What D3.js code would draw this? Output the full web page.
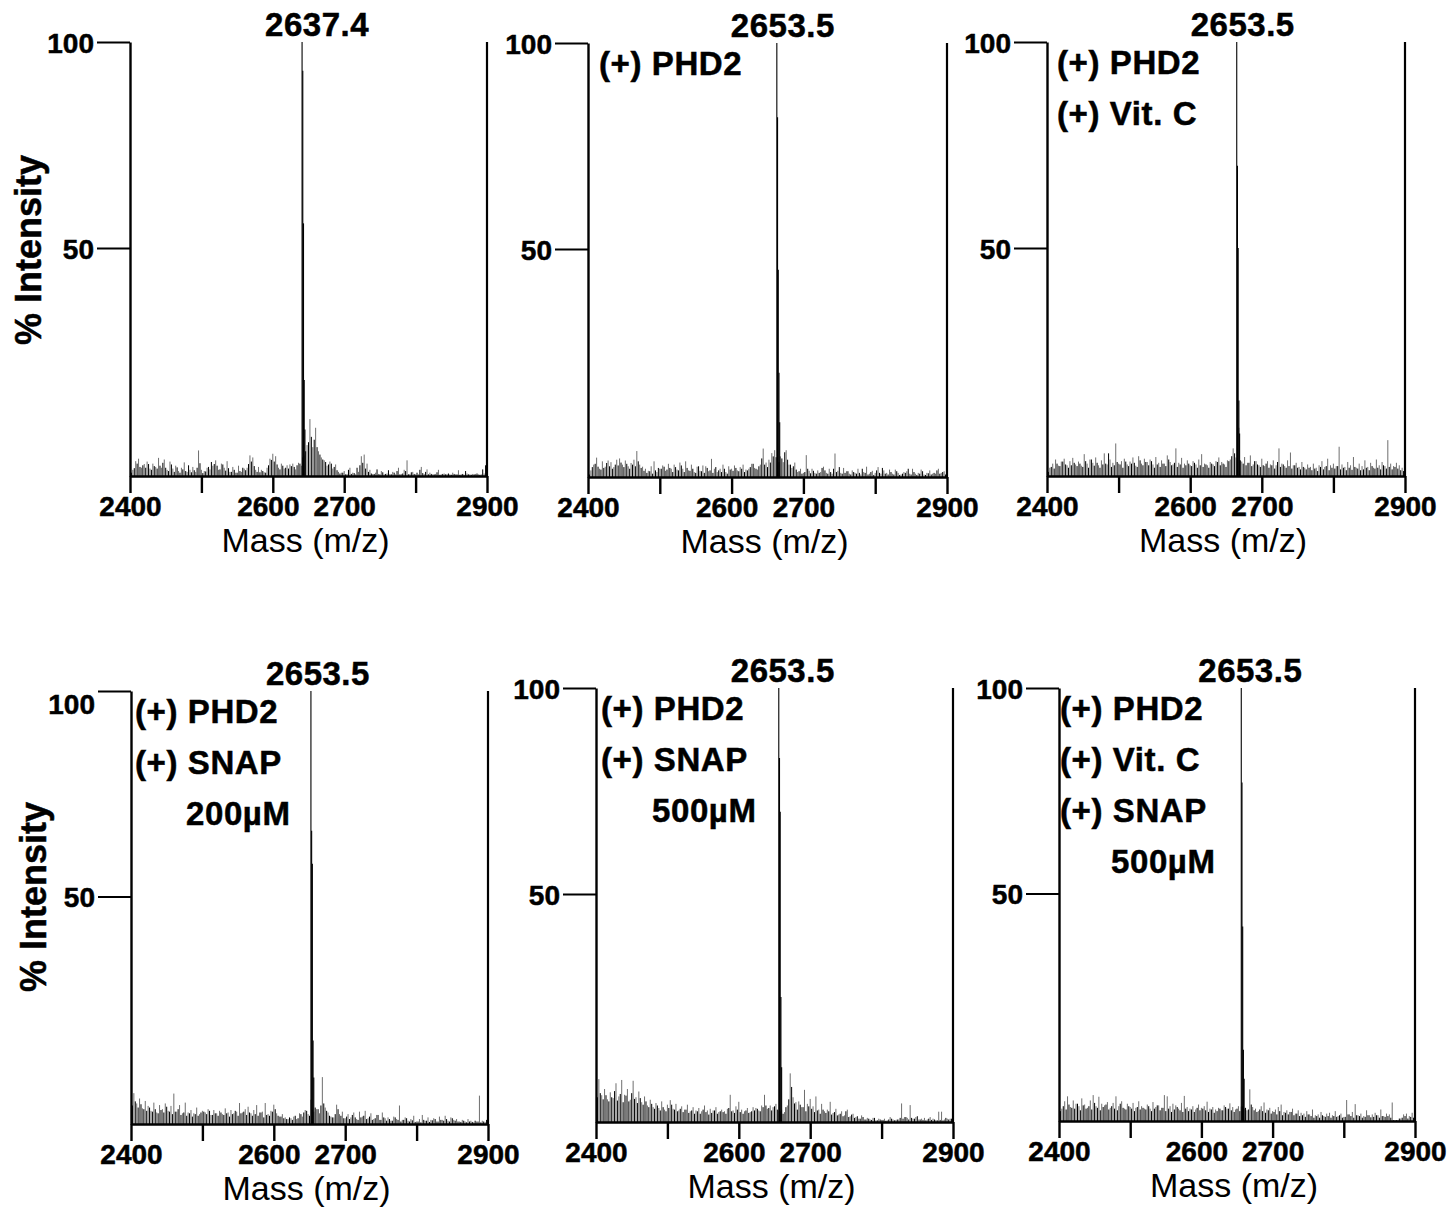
<!DOCTYPE html>
<html>
<head>
<meta charset="utf-8">
<script src="https://cdn.jsdelivr.net/npm/d3@7"></script>
<style>
  html, body { margin: 0; padding: 0; background: #fff; }
  text { font-family: "Liberation Sans", Arial, sans-serif; fill: #000; }
  text.bold { font-weight: bold; stroke: #000; stroke-width: 0.5px; }
</style>
</head>
<body>
<script>
// ---------------- DATA ----------------
const MZ_TICKS = [2400, 2500, 2600, 2700, 2800, 2900];
const MZ_TICK_LABELS = ["2400", "", "2600", "2700", "", "2900"];
const Y_TICKS = [50, 100];
const Y_TICK_LABELS = ["50", "100"];
const X_TITLE = "Mass (m/z)";
const Y_TITLE = "% Intensity";

const peakLabels = ["2637.4", "2653.5", "2653.5", "2653.5", "2653.5", "2653.5"];
// m/z where the main peak is drawn
const peakMz = [2641, 2663, 2665, 2652, 2656, 2656];
// isotope sticks (% intensity), one per 1 Da starting at peakMz
const isotopes = [
  [100, 93, 56, 18, 6],
  [100, 82, 45, 20, 8],
  [100, 70, 50, 13, 5],
  [100, 66, 58, 15, 6],
  [100, 83, 70, 25, 8],
  [100, 77, 42, 12, 5]
];
const annotations = [
  [],
  ["(+) PHD2"],
  ["(+) PHD2", "(+) Vit. C"],
  ["(+) PHD2", "(+) SNAP", "200µM"],
  ["(+) PHD2", "(+) SNAP", "500µM"],
  ["(+) PHD2", "(+) Vit. C", "(+) SNAP", "500µM"]
];

// noise sticks: heights above the baseline (% of scale)
// "black" sticks at m/z 2402, 2406, ... 2898 ; "grey" sticks at 2404, 2408, ... 2900
const NOISE_BLACK_START = 2402, NOISE_GREY_START = 2404, NOISE_STEP = 4;

const noiseBlack1 = [
  0.8,1.9,3.0,2.2,2.6, 2.0,2.9,1.5,2.4,1.8, 2.5,3.2,2.0,1.2,2.8, 1.0,2.1,0.8,1.6,1.2,
  2.6,0.9,1.4,2.0,3.1, 0.7,1.1,2.2,3.4,2.9, 2.5,1.6,2.8,1.3,1.9, 1.0,1.5,0.8,1.2,2.0,
  1.4,2.9,3.5,2.4,1.0, 0.9,1.2,0.8,2.6,3.9, 3.5,2.8,1.6,2.5,2.0, 1.8,2.4,2.2,2.6,3.0,
  4.5,6.0,8.2,9.5,8.8, 7.0,5.2,4.0,3.4,2.8, 3.0,2.2,1.4,0.6,0.8, 0.4,1.5,0.5,0.7,2.0,
  2.6,3.2,1.8,1.0,0.6, 0.5,1.6,0.4,0.9,0.5, 1.4,0.4,0.8,1.2,0.4, 0.6,1.2,0.4,0.9,0.5,
  0.8,1.5,0.7,1.0,0.4, 0.5,0.4,0.9,0.3,0.5, 0.4,0.6,0.3,0.5,0.4, 0.3,0.5,1.2,0.4,0.3,
  0.4,0.6,0.3,1.6,2.6
];
const noiseGrey1 = [
  1.5,3.6,4.2,2.0,2.9, 3.5,1.8,3.0,2.2,4.4, 2.0,4.0,1.5,3.5,1.8, 2.5,1.2,2.0,3.3,1.0,
  1.5,2.2,1.0,6.2,1.5, 1.2,2.0,1.6,2.5,3.8, 1.5,3.0,2.0,3.6,1.0, 2.2,0.8,2.5,1.0,1.8,
  2.0,5.0,4.5,1.5,2.2, 1.5,0.9,2.0,4.2,5.4, 4.8,2.0,3.0,1.8,2.6, 2.8,3.0,1.6,3.2,2.5,
  5.0,7.5,13.8,7.0,11.7, 6.0,4.5,3.8,2.5,3.5, 1.8,2.8,1.0,0.8,1.2, 0.5,2.0,0.8,0.4,1.0,
  4.8,5.2,3.0,1.5,0.5, 0.8,0.5,1.2,0.4,0.6, 0.5,1.0,0.4,2.0,0.5, 1.5,3.8,0.5,1.0,0.4,
  0.4,2.2,0.5,1.6,0.8, 0.4,0.5,1.5,0.4,0.6, 0.5,0.4,0.8,0.4,1.4, 0.4,0.3,0.6,0.4,0.5,
  0.5,0.4,0.4,0.6,0.8
];
const noiseBlack2 = [
  0.6,2.4,3.2,2.5,1.8, 2.2,3.4,2.6,2.0,3.0, 2.8,3.5,2.4,3.2,2.0, 3.0,2.6,3.8,2.2,1.5,
  1.0,1.4,0.8,1.6,2.2, 2.0,2.5,1.8,2.2,1.2, 2.4,1.6,2.8,1.2,2.2, 1.5,2.0,1.0,2.6,1.4,
  1.0,2.2,1.6,1.0,2.4, 1.6,1.2,2.0,0.8,1.8, 1.5,2.2,1.4,2.0,1.2, 1.6,2.4,3.2,2.0,2.6,
  4.5,3.0,2.4,3.5,5.0, 4.8,3.6,4.5,6.0,4.2, 3.0,2.6,1.8,1.4,0.8, 1.2,2.0,0.9,1.5,0.8,
  1.0,2.2,1.6,0.8,1.2, 2.0,1.2,2.4,0.8,1.0, 1.4,0.6,1.2,0.8,1.0, 2.0,1.0,0.6,1.2,0.5,
  1.6,1.0,2.2,0.8,0.6, 1.2,0.6,1.4,0.5,0.8, 1.0,2.0,0.6,1.2,0.5, 0.8,1.4,0.5,0.9,0.6,
  1.0,1.6,0.8,1.2,0.6
];
const noiseGrey2 = [
  1.6,3.0,4.7,2.0,3.8, 2.5,4.0,3.6,2.4,4.2, 4.5,3.0,4.0,2.6,3.4, 4.2,6.3,3.0,2.5,2.0,
  1.5,2.6,3.8,1.2,2.0, 2.8,1.5,3.2,2.0,3.0, 1.8,3.5,2.0,3.8,1.6, 3.0,1.2,2.5,1.5,2.8,
  2.6,1.4,4.4,2.0,1.2, 2.0,3.0,1.2,2.6,2.0, 2.8,1.6,2.4,3.0,1.8, 2.0,3.2,2.2,1.8,3.0,
  6.9,3.5,4.2,5.8,6.5, 7.7,5.0,3.6,6.5,3.0, 2.2,3.5,1.2,2.0,1.0, 5.3,1.5,2.0,1.0,1.6,
  1.2,2.5,1.0,2.0,0.8, 5.7,1.5,1.0,2.2,1.4, 0.8,1.6,1.0,2.0,0.6, 1.2,2.5,0.8,1.5,1.0,
  2.4,0.8,1.6,1.0,1.8, 0.8,1.8,1.0,0.6,1.2, 1.4,0.8,2.0,0.8,1.0, 1.8,0.6,1.0,1.6,0.8,
  0.8,2.0,1.0,1.4,1.6
];
const noiseBlack3 = [
  1.0,2.2,1.8,3.0,2.4, 3.5,2.8,2.0,2.6,3.2, 2.4,3.0,2.2,3.6,2.0, 4.0,2.5,3.2,2.0,2.8,
  3.0,5.5,2.2,2.6,3.4, 2.8,2.0,3.5,2.4,3.0, 3.2,2.2,3.8,2.6,3.4, 2.6,3.6,2.0,2.8,2.2,
  3.0,2.4,4.0,2.6,3.2, 2.2,2.8,2.0,2.6,3.0, 2.4,3.2,2.0,2.6,2.2, 2.8,2.0,3.0,2.4,3.4,
  2.6,3.0,2.2,3.6,4.8, 5.5,3.5,3.8,3.0,2.6, 3.2,2.4,3.6,2.8,2.2, 2.6,3.0,2.0,2.6,1.8,
  3.4,2.2,2.8,2.0,2.4, 1.8,2.6,2.0,1.6,2.2, 1.6,2.0,1.4,1.8,1.2, 2.2,1.6,2.4,1.4,2.0,
  1.8,2.4,1.6,2.0,1.4, 2.0,1.5,2.2,1.8,1.4, 1.6,2.0,1.4,2.4,1.8, 2.0,1.6,2.6,1.8,2.2,
  1.6,2.2,1.8,1.4,1.2
];
const noiseGrey3 = [
  2.0,3.0,4.0,2.5,3.5, 4.2,2.6,3.6,4.4,2.8, 3.5,2.5,5.3,3.0,4.0, 3.2,4.5,2.6,3.8,5.5,
  2.8,4.0,3.2,7.9,3.0, 3.6,4.2,2.8,3.5,4.5, 2.5,4.8,3.0,4.2,3.4, 4.0,2.8,4.6,3.2,3.8,
  3.0,5.0,3.4,2.8,6.7, 3.2,4.4,3.0,3.8,2.6, 3.6,2.8,4.0,5.3,3.0, 2.6,3.4,2.8,3.6,4.5,
  3.4,2.8,3.8,4.0,6.7, 4.5,11.7,3.5,4.6,3.2, 5.0,2.8,3.6,2.6,4.2, 2.4,3.6,2.8,3.8,2.6,
  6.7,3.0,2.4,3.8,5.7, 2.6,3.2,2.2,3.4,2.0, 2.8,2.2,3.0,2.0,2.6, 3.6,2.2,4.2,2.6,3.0,
  2.4,7.1,2.8,2.2,3.4, 2.6,4.6,2.0,3.0,2.4, 3.8,2.2,3.2,2.0,4.0, 2.6,3.4,2.4,8.7,3.0,
  2.4,3.2,2.6,2.0,2.8
];
const noiseBlack4 = [
  4.5,5.5,4.0,4.8,3.6, 3.2,4.0,3.0,3.6,2.6, 3.4,2.8,4.2,3.0,2.4, 3.0,3.6,2.2,2.8,2.0,
  2.6,1.8,2.4,2.0,2.8, 3.0,2.4,3.2,2.2,2.6, 2.0,2.8,2.2,2.6,1.8, 2.4,3.2,2.0,2.6,3.0,
  2.2,2.8,2.0,2.4,2.0, 2.8,1.6,2.2,2.0,3.0, 3.6,2.0,1.8,1.4,1.2, 1.6,1.0,2.0,1.4,2.4,
  2.8,3.2,2.0,3.5,4.0, 3.6,4.5,5.0,3.2,2.0, 1.6,2.4,3.6,2.0,1.4, 1.8,1.2,2.2,1.6,1.0,
  1.6,2.0,1.2,1.8,1.0, 1.4,2.2,1.0,1.6,0.8, 1.2,0.8,1.6,1.0,0.6, 1.0,1.4,0.6,0.9,0.5,
  0.6,0.4,1.0,0.8,0.5, 0.9,1.2,0.6,1.0,0.8, 1.2,0.6,1.4,0.8,0.6, 0.5,0.8,0.4,0.6,0.5,
  0.8,0.6,0.4,0.6,1.0
];
const noiseGrey4 = [
  7.5,5.0,6.2,3.8,5.6, 4.4,3.2,5.2,2.8,4.6, 3.6,5.0,3.2,4.4,7.4, 3.0,4.6,2.6,5.2,2.8,
  3.4,2.6,4.0,2.4,3.2, 2.8,3.6,2.2,3.4,2.6, 3.2,2.4,3.8,2.8,3.4, 2.6,3.0,5.1,2.8,3.6,
  4.2,2.6,3.4,4.6,2.8, 3.0,5.1,2.4,3.2,4.7, 2.6,1.8,2.4,1.6,1.2, 1.4,1.8,1.2,2.6,1.8,
  3.4,2.4,5.9,3.0,3.6, 2.6,11.4,4.0,2.8,1.8, 1.6,4.7,2.4,3.0,1.4, 2.4,1.6,2.8,1.2,3.0,
  1.8,3.2,1.4,2.6,1.2, 2.2,1.0,2.8,1.4,1.6, 0.8,1.8,1.2,4.5,1.0, 1.6,0.8,1.2,2.0,0.6,
  1.2,2.2,0.8,1.6,1.0, 1.4,0.6,1.8,1.0,2.0, 0.8,1.6,1.0,1.2,0.6, 1.0,0.6,1.2,0.8,0.4,
  0.6,6.9,0.8,0.5,4.7
];
const noiseBlack5 = [
  6.0,7.0,5.5,6.5,5.0, 6.0,7.5,5.2,6.8,4.8, 6.4,5.0,7.0,5.6,4.6, 5.8,4.2,5.0,3.6,4.4,
  3.2,4.0,2.8,3.6,2.6, 3.4,4.2,3.0,2.6,3.2, 2.4,3.0,2.2,2.8,2.0, 2.6,2.0,3.0,2.4,1.8,
  2.2,2.8,2.0,2.6,2.4, 2.0,3.4,2.6,2.2,3.0, 2.4,2.0,2.8,2.2,2.6, 2.8,3.2,2.6,3.6,4.0,
  3.4,2.8,3.8,3.0,2.6, 2.0,3.6,5.5,8.5,4.5, 3.0,4.2,3.6,2.6,3.8, 3.2,2.4,2.8,2.0,3.0,
  2.2,2.6,1.8,2.4,1.6, 2.0,1.4,2.6,1.2,1.8, 1.0,1.4,0.8,1.2,0.6, 0.8,0.5,1.0,0.4,0.6,
  0.5,0.3,0.6,0.8,0.4, 0.6,1.0,0.8,1.2,0.6, 1.0,0.8,1.4,0.6,0.5, 0.4,0.8,0.5,0.6,0.4,
  0.5,0.4,1.0,0.6,0.8
];
const noiseGrey5 = [
  10.4,6.5,8.0,5.5,7.2, 5.8,9.4,6.2,10.2,6.6, 8.0,5.4,10.0,6.0,7.4, 4.8,6.2,4.0,5.4,3.6,
  4.6,3.4,5.0,3.0,4.2, 5.3,3.2,4.4,2.8,3.8, 3.0,4.2,2.6,3.6,2.8, 3.4,2.6,4.0,2.8,3.2,
  2.8,3.6,2.4,3.0,2.6, 3.2,6.6,2.8,3.8,4.9, 3.0,2.6,3.4,2.4,3.6, 3.4,2.8,4.0,6.6,3.2,
  4.0,3.6,4.4,2.8,3.0, 2.4,4.0,11.8,6.0,4.8, 5.0,3.6,7.8,4.4,5.6, 3.8,6.2,3.0,4.4,2.6,
  3.0,4.9,2.2,3.2,1.8, 2.6,1.6,3.0,1.4,2.0, 1.2,0.8,1.6,0.6,1.0, 0.6,1.0,0.4,0.8,0.5,
  0.8,0.4,1.2,0.6,0.5, 0.6,4.5,1.2,1.0,4.1, 0.8,1.2,0.6,0.8,1.0, 0.6,1.2,0.8,0.5,2.5,
  2.5,0.6,0.8,0.8,0.5
];
const noiseBlack6 = [
  2.4,3.6,2.8,4.0,3.2, 3.0,4.2,2.6,3.8,3.0, 3.6,2.8,4.4,3.2,2.6, 3.4,4.0,2.8,3.6,3.0,
  2.6,4.2,3.2,2.8,3.6, 3.0,2.4,3.4,2.8,3.2, 2.8,3.6,2.4,3.0,3.8, 2.6,3.2,2.4,3.0,2.2,
  2.8,3.4,2.6,2.2,3.0, 2.4,2.8,2.2,3.2,2.6, 3.0,2.6,2.2,2.8,2.0, 2.4,3.0,2.6,3.4,3.0,
  2.6,2.2,3.0,2.4,3.6, 3.2,2.8,4.0,2.6,2.2, 2.8,2.4,2.0,2.6,1.8, 2.2,1.6,2.4,1.4,2.0,
  1.6,2.2,1.4,1.8,1.2, 1.4,1.0,1.6,1.2,0.8, 1.2,0.8,1.4,1.0,1.2, 0.8,1.2,1.0,1.4,0.8,
  1.0,1.6,1.2,0.8,1.4, 1.2,0.8,1.0,1.4,0.9, 1.0,1.4,0.8,1.2,1.0, 1.2,0.8,0.2,0.2,0.6,
  0.8,1.2,0.6,1.0,0.8
];
const noiseGrey6 = [
  3.0,4.8,6.0,3.4,5.0, 4.2,3.6,5.5,4.0,3.2, 5.0,6.3,3.6,5.9,4.2, 3.8,4.6,3.2,4.4,6.0,
  3.6,4.8,3.0,4.2,3.4, 4.4,3.2,4.8,3.6,3.0, 4.0,3.0,4.6,3.4,3.8, 3.2,6.3,6.0,3.6,4.2,
  3.8,3.0,4.4,6.1,3.4, 3.0,3.6,2.8,4.0,3.2, 3.6,4.7,3.0,3.4,2.8, 3.2,2.6,3.8,3.0,4.3,
  3.4,2.8,3.6,3.5,3.0, 2.6,7.7,3.4,3.0,2.4, 3.6,4.5,2.8,3.2,2.4, 2.8,3.4,4.0,2.2,2.6,
  2.2,3.0,1.8,2.6,2.0, 1.8,2.4,1.6,2.8,1.4, 1.6,2.2,1.2,1.8,2.0, 1.4,2.4,1.2,1.8,1.0,
  5.1,1.6,2.2,4.1,1.4, 1.8,1.2,2.6,1.4,1.6, 2.0,1.4,2.8,1.2,1.8, 1.6,4.5,0.2,0.2,0.6,
  1.6,1.8,1.2,2.0,1.4
];
const noiseBlack = [noiseBlack1, noiseBlack2, noiseBlack3, noiseBlack4, noiseBlack5, noiseBlack6];
const noiseGrey = [noiseGrey1, noiseGrey2, noiseGrey3, noiseGrey4, noiseGrey5, noiseGrey6];

// ---------------- LAYOUT ----------------
const W = 1453, H = 1215;
const Y_MIN = -5.3;   // axis floor below 0 (as in the instrument plot)
const layout = [
  {x0: 130,  x1: 487,  yTop: 42,  yBase: 476,  labelDx: 15, annX: 10, hDy: 0},
  {x0: 588,  x1: 947,  yTop: 43,  yBase: 477,  labelDx: 6,  annX: 11, hDy: 0},
  {x0: 1047, x1: 1405, yTop: 42,  yBase: 476,  labelDx: 6,  annX: 10, hDy: 0},
  {x0: 131,  x1: 488,  yTop: 691, yBase: 1124, labelDx: 7,  annX: 4,  hDy: 12},
  {x0: 596,  x1: 953,  yTop: 688, yBase: 1122, labelDx: 4,  annX: 5,  hDy: 0},
  {x0: 1059, x1: 1415, yTop: 688, yBase: 1121, labelDx: 9,  annX: 1,  hDy: 0}
];
const yTitlePos = [{x: 41, y: 250}, {x: 46, y: 897}];

const svg = d3.select("body").append("svg")
  .attr("width", W).attr("height", H)
  .attr("viewBox", `0 0 ${W} ${H}`);
svg.append("rect").attr("width", W).attr("height", H).attr("fill", "#fff");

layout.forEach((L, i) => {
  const x = d3.scaleLinear().domain([2400, 2900]).range([L.x0, L.x1]);
  const y = d3.scaleLinear().domain([Y_MIN, 100]).range([L.yBase, L.yTop]);
  const g = svg.append("g");

  // noise
  g.append("g").selectAll("line").data(noiseGrey[i]).join("line")
    .attr("x1", (d, k) => x(NOISE_GREY_START + NOISE_STEP * k))
    .attr("x2", (d, k) => x(NOISE_GREY_START + NOISE_STEP * k))
    .attr("y1", y(Y_MIN)).attr("y2", d => y(Y_MIN + d))
    .attr("stroke", "#6e6e6e").attr("stroke-width", 1);
  g.append("g").selectAll("line").data(noiseBlack[i]).join("line")
    .attr("x1", (d, k) => x(NOISE_BLACK_START + NOISE_STEP * k))
    .attr("x2", (d, k) => x(NOISE_BLACK_START + NOISE_STEP * k))
    .attr("y1", y(Y_MIN)).attr("y2", d => y(Y_MIN + d))
    .attr("stroke", "#000").attr("stroke-width", 1);

  // main peak (isotope sticks)
  g.append("g").selectAll("line").data(isotopes[i]).join("line")
    .attr("x1", (d, k) => x(peakMz[i] + k))
    .attr("x2", (d, k) => x(peakMz[i] + k))
    .attr("y1", y(Y_MIN)).attr("y2", d => y(d))
    .attr("stroke", "#000").attr("stroke-width", 1.1);

  // x axis
  const xa = g.append("g").attr("transform", `translate(0,${L.yBase})`)
    .call(d3.axisBottom(x).tickValues(MZ_TICKS).tickSize(17).tickSizeOuter(0)
      .tickPadding(3).tickFormat((d, k) => MZ_TICK_LABELS[k]));
  xa.select(".domain").attr("stroke", "#000").attr("stroke-width", 2.6);
  xa.selectAll(".tick line").attr("stroke", "#000").attr("stroke-width", 2.4);
  xa.selectAll(".tick text")
    .attr("class", "bold")
    .style("font-size", "28px")
    .style("font-family", "'Liberation Sans', Arial, sans-serif")
    .attr("dx", d => d === 2600 ? -5 : 0);

  // y axis
  const ya = g.append("g").attr("transform", `translate(${L.x0},0)`)
    .call(d3.axisLeft(y).tickValues(Y_TICKS).tickSize(33).tickSizeOuter(0)
      .tickPadding(3).tickFormat((d, k) => Y_TICK_LABELS[k]));
  ya.select(".domain").attr("stroke", "#000").attr("stroke-width", 2.4);
  ya.selectAll(".tick line").attr("stroke", "#000").attr("stroke-width", 2);
  ya.selectAll(".tick text")
    .attr("class", "bold")
    .style("font-size", "28px")
    .style("font-family", "'Liberation Sans', Arial, sans-serif")
    .attr("dy", d => d === 100 ? (L.hDy + 10) + "px" : "10px");

  // right frame line
  g.append("line")
    .attr("x1", x(2900)).attr("x2", x(2900))
    .attr("y1", y(100)).attr("y2", y(Y_MIN))
    .attr("stroke", "#000").attr("stroke-width", 2.2);

  // peak label
  g.append("text").attr("class", "bold")
    .attr("x", x(peakMz[i]) + L.labelDx).attr("y", y(100) - 6)
    .attr("text-anchor", "middle")
    .style("font-size", "33px")
    .style("letter-spacing", "0.5px")
    .text(peakLabels[i]);

  // annotations
  annotations[i].forEach((t, k) => {
    const indent = t.startsWith("(") ? 0 : 51;
    g.append("text").attr("class", "bold")
      .attr("x", L.x0 + L.annX + indent)
      .attr("y", y(100) + 32 + k * 51)
      .style("font-size", "33px")
      .style("letter-spacing", "0.6px")
      .text(t);
  });

  // x title
  g.append("text")
    .attr("x", (L.x0 + L.x1) / 2 - 3).attr("y", L.yBase + 76)
    .attr("text-anchor", "middle")
    .style("font-size", "34px")
    .text(X_TITLE);
});

// y titles
yTitlePos.forEach(p => {
  svg.append("text").attr("class", "bold")
    .attr("transform", `translate(${p.x},${p.y}) rotate(-90)`)
    .attr("text-anchor", "middle")
    .style("font-size", "36px")
    .text(Y_TITLE);
});
</script>
</body>
</html>
